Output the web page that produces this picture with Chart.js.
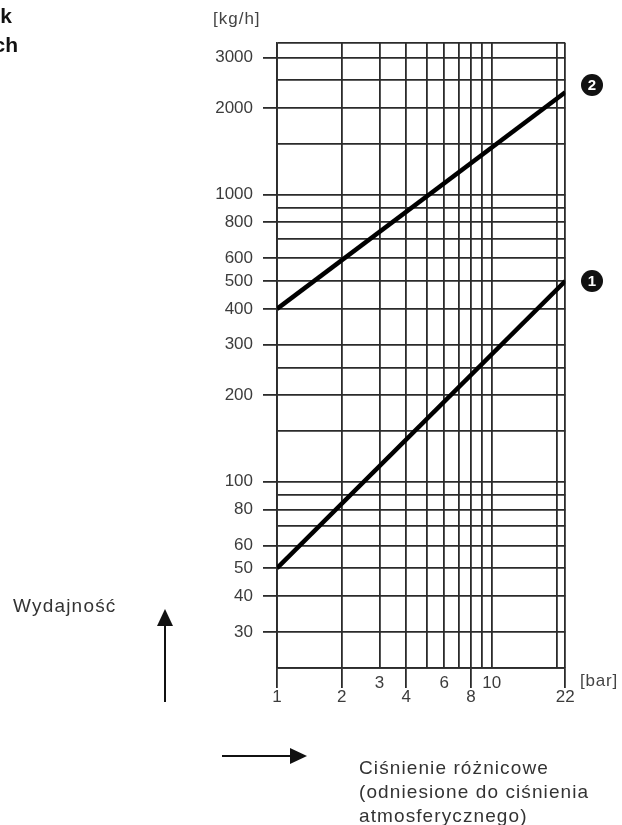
<!DOCTYPE html>
<html>
<head>
<meta charset="utf-8">
<script src="https://cdn.jsdelivr.net/npm/chart.js@4.4.0/dist/chart.umd.min.js"></script>
<style>
html,body{margin:0;padding:0;background:#fff;}
#wrap{position:relative;width:622px;height:825px;overflow:hidden;font-family:"Liberation Sans",Arial,sans-serif;}
#c{position:absolute;left:0;top:0;}
.t{position:absolute;color:#333;white-space:nowrap;z-index:2;}
.mk{position:absolute;width:22px;height:22px;border-radius:50%;background:#111;color:#fff;font:bold 15px "Liberation Sans",Arial,sans-serif;text-align:center;line-height:22px;z-index:2;}
svg{position:absolute;left:0;top:0;z-index:2;}
</style>
</head>
<body>
<div id="wrap">
<canvas id="c" width="622" height="825"></canvas>
<div class="t" style="right:610px;top:4px;font-weight:bold;font-size:21px;color:#111;">k</div>
<div class="t" style="right:604px;top:33px;font-weight:bold;font-size:21px;color:#111;">ch</div>
<div class="t" style="left:213px;top:9px;font-size:17px;letter-spacing:1px;color:#444;">[kg/h]</div>
<div class="t" style="left:580px;top:671px;font-size:17px;letter-spacing:0.8px;color:#444;">[bar]</div>
<div class="mk" style="left:581px;top:74px;">2</div>
<div class="mk" style="left:581px;top:270px;">1</div>
<div class="t" style="left:13px;top:595px;font-size:19px;letter-spacing:1.2px;">Wydajność</div>
<div class="t" style="left:359px;top:756px;font-size:19px;letter-spacing:1.1px;line-height:24px;">Ciśnienie różnicowe<br>(odniesione do ciśnienia<br>atmosferycznego)</div>
<svg width="622" height="825">
  <line x1="165" y1="702" x2="165" y2="622" stroke="#111" stroke-width="2"/>
  <polygon points="157,626 173,626 165,609" fill="#111"/>
  <line x1="222" y1="756" x2="292" y2="756" stroke="#111" stroke-width="2"/>
  <polygon points="290,748 290,764 307,756" fill="#111"/>
</svg>
</div>
<script>
// ---- data ----
const pressureBar = [1, 22];
const capacityCurve1 = [50, 500];
const capacityCurve2 = [400, 2270];
const xGridValues = [1, 2, 3, 4, 5, 6, 7, 8, 9, 10, 20, 22];
const xLabelsUpper = [3, 6, 10];
const xLabelsLower = [1, 2, 4, 8, 22];
const yGridValues = [30, 40, 50, 60, 70, 80, 90, 100, 150, 200, 250, 300, 400, 500, 600, 700, 800, 900, 1000, 1500, 2000, 2500, 3000];
const yLabeled = [30, 40, 50, 60, 80, 100, 200, 300, 400, 500, 600, 800, 1000, 2000, 3000];
const yMin = 22.46;
const yMax = 3371;
const xMin = 1;
const xMax = 22;

const lineCol = '#2b2b2b';
const textCol = '#3c3c3c';
const clear = 'rgba(0,0,0,0)';

const mk = (xs, ys) => xs.map((x, i) => ({x: x, y: ys[i]}));

new Chart(document.getElementById('c'), {
  type: 'line',
  data: {
    datasets: [
      {data: mk(pressureBar, capacityCurve1), borderColor: '#000', borderWidth: 4.5, pointRadius: 0, fill: false},
      {data: mk(pressureBar, capacityCurve2), borderColor: '#000', borderWidth: 4.5, pointRadius: 0, fill: false}
    ]
  },
  options: {
    responsive: false,
    animation: false,
    devicePixelRatio: 1,
    layout: {padding: {left: 0, top: 43, right: 56.7, bottom: 117}},
    plugins: {legend: {display: false}, tooltip: {enabled: false}},
    scales: {
      x: {
        type: 'logarithmic',
        position: 'bottom',
        min: xMin,
        max: xMax,
        afterBuildTicks: s => { s.ticks = xGridValues.map(v => ({value: v})); },
        afterFit: s => { s.height = 40; },
        grid: {
          color: lineCol,
          lineWidth: 1.8,
          tickLength: 20,
          tickWidth: 1.8,
          tickColor: ctx => (ctx.tick && xLabelsLower.includes(ctx.tick.value)) ? lineCol : clear
        },
        border: {color: lineCol, width: 1.8},
        ticks: {
          autoSkip: false,
          maxRotation: 0,
          minRotation: 0,
          padding: -12,
          color: textCol,
          font: {family: '"Liberation Sans", Arial, sans-serif', size: 17, lineHeight: 0.85},
          callback: function (val) {
            if (xLabelsLower.includes(val)) return ['', String(val)];
            if (xLabelsUpper.includes(val)) return String(val);
            return '';
          }
        }
      },
      y: {
        type: 'logarithmic',
        position: 'left',
        min: yMin,
        max: yMax,
        afterBuildTicks: s => { s.ticks = [yMin].concat(yGridValues, [yMax]).map(v => ({value: v})); },
        afterFit: s => { s.width = 277; },
        grid: {
          color: lineCol,
          lineWidth: 1.8,
          tickLength: 14,
          tickWidth: 1.8,
          tickColor: ctx => (ctx.tick && yLabeled.includes(ctx.tick.value)) ? lineCol : clear
        },
        border: {color: lineCol, width: 1.8},
        ticks: {
          autoSkip: false,
          padding: 10,
          color: textCol,
          font: {family: '"Liberation Sans", Arial, sans-serif', size: 17},
          callback: function (val) {
            return yLabeled.includes(val) ? String(val) : '';
          }
        }
      }
    }
  }
});
</script>
</body>
</html>
